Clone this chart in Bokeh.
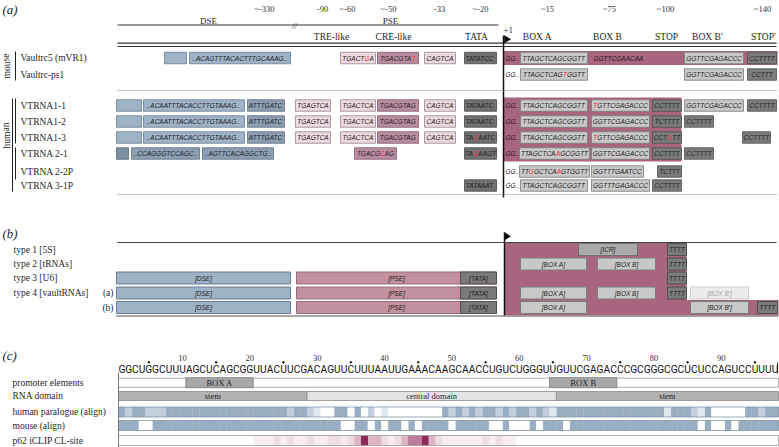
from bokeh.plotting import figure
from bokeh.models import Range1d
from bokeh.core.properties import value
from bokeh.embed import file_html
from bokeh.resources import INLINE

# ======================= DATA =======================
# panel (a)
ROWS_A = ["Vaultrc5 (mVR1)", "Vaultrc-ps1", "VTRNA1-1", "VTRNA1-2", "VTRNA1-3",
          "VTRNA 2-1", "VTRNA 2-2P", "VTRNA 3-1P"]
POS_LABELS = ["~-330", "-90", "~-60", "~-50", "-33", "~-20", "~15", "~75", "~100", "~140"]
HEADERS = ["TRE-like", "CRE-like", "TATA", "BOX A", "BOX B", "STOP", "BOX B\u2032", "STOP\u2032"]
REGIONS = ["DSE", "PSE"]
# element lists per row: (kind, slot, sequence, red-letter indices)
ROW_ELEMENTS = [
    [("dse", "m0", "", ()), ("dse", "m1", "..ACAGTTTACACTTTGCAAAG..", ()),
     ("tre", "tre2", "TGACTGA", (5,)), ("cre", "cre", "TGACGTAT", (7,)),
     ("tre", "cap", "CAGTCA", ()), ("tata", "tata", "TATATCC", ()),
     ("plain", "gg", "GG..", ()), ("grey", "boxA", "TTAGCTCAGCGGTT", ()),
     ("plain", "boxBt", "GGTTCGAACAA", ()), ("grey", "boxB2", "GGTTCGAGACCC", ()),
     ("stop", "stop2", "CCTTTT", ())],
    [("plain", "gg", "GG..", ()), ("grey", "boxA", "TTAGCTCAGTGGTT", (9,)),
     ("grey", "boxB2", "GGTTCGAGACCC", ()), ("stop", "stop2", "CCTTT", ())],
    [("dse", "h0", "", ()), ("dse", "h1", "..ACAATTTACACCTTGTAAAG..", ()),
     ("dse2", "h2", "ATTTGATC", ()), ("tre", "tre1", "TGAGTCA", ()),
     ("tre", "tre2", "TGACTCA", ()), ("cre", "cre", "TGACGTAG", ()),
     ("tre", "cap", "CAGTCA", ()), ("tata", "tata", "TATAATC", ()),
     ("plain", "gg", "GG..", ()), ("grey", "boxA", "TTAGCTCAGCGGTT", ()),
     ("grey", "boxB", "TGTTCGAGACCC", (0,)), ("stop", "stop", "CCTTTT", ()),
     ("grey", "boxB2", "GGTTCGAGACCC", ()), ("stop", "stop2", "CCTTTT", ())],
    [("dse", "h0", "", ()), ("dse", "h1", "..ACAATTTACACCTTGTAAAG..", ()),
     ("dse2", "h2", "ATTTGATC", ()), ("tre", "tre1", "TGAGTCA", ()),
     ("tre", "tre2", "TGACTCA", ()), ("cre", "cre", "TGACGTAG", ()),
     ("tre", "cap", "CAGTCA", ()), ("tata", "tata", "TATAATC", ()),
     ("plain", "gg", "GG..", ()), ("grey", "boxA", "TTAGCTCAGCGGTT", ()),
     ("grey", "boxB", "GGTTCGAGACCC", ()), ("stop", "stop", "TCTTTT", ()),
     ("stop", "stop2b", "CCTTTT", ())],
    [("dse", "h0", "", ()), ("dse", "h1", "..ACAATTTACACCTTGTAAAG..", ()),
     ("dse2", "h2", "ATTTGATC", ()), ("tre", "tre1", "TGAGTCA", ()),
     ("tre", "tre2", "TGACTCA", ()), ("cre", "cre", "TGACGTAG", ()),
     ("tre", "cap", "CAGTCA", ()), ("tata", "tata", "TACAATC", (2,)),
     ("plain", "gg", "GG..", ()), ("grey", "boxA", "TTAGCTCAGCGGTT", ()),
     ("grey", "boxB", "TGTTCGAGACCC", (0,)), ("stop", "stop", "CCTGTT", (3,)),
     ("stop", "stop2c", "CCTTTT", ())],
    [("dse3", "v0", "", ()), ("dse2", "v1", "..CCAGGGTCCAGC..", ()),
     ("dse2", "v2", "..AGTTCACAGGCTG..", ()), ("cre", "cre2", "TGACGCAG", (5,)),
     ("tata", "tata", "TAGAAGT", (2,)),
     ("plain", "gg", "GG..", ()), ("grey", "boxAw", "TTAGCTCAAGCGGTT", (8,)),
     ("grey", "boxB", "GGTTCGAGACCC", ()), ("stop", "stop", "CCTTTT", ()),
     ("stop", "stop2b", "CCTTTT", ())],
    [("plain", "gg", "GG..", ()), ("grey", "boxAw", "TTGGCTCAAGTGGTT", (2, 8)),
     ("grey", "boxBs", "GGTTTGAATCC", ()), ("stop", "stops", "TCTTT", ())],
    [("tata", "tata", "TATAAAT", ()), ("plain", "gg", "GG..", ()),
     ("grey", "boxA", "TTAGCTCAGCGGTT", ()), ("grey", "boxB", "GGTTTGAGACCC", ()),
     ("stop", "stop", "CCTTTT", ())],
]

# panel (b)
ROWS_B = ["type 1 [5S]", "type 2 [tRNAs]", "type 3 [U6]", "type 4 [vaultRNAs]", ""]
SUB_B = ["", "", "", "(a)", "(b)"]
ROW_B_ELEMENTS = [
    [("icr", "icr", "[ICR]"), ("stopb", "t1", "TTTT")],
    [("greyb", "ba", "[BOX A]"), ("greyb", "bb", "[BOX B]"), ("stopb", "t1", "TTTT")],
    [("dseb", "dse", "[DSE]"), ("pseb", "pse", "[PSE]"), ("tatab", "tata", "[TATA]"), ("stopb", "t1", "TTTT")],
    [("dseb", "dse", "[DSE]"), ("pseb", "pse", "[PSE]"), ("tatab", "tata", "[TATA]"),
     ("greyb", "ba", "[BOX A]"), ("greyb", "bb", "[BOX B]"), ("stopb", "t1", "TTTT"), ("faded", "bb2", "[BOX B\u2032]")],
    [("dseb", "dse", "[DSE]"), ("pseb", "pse", "[PSE]"), ("tatab", "tata", "[TATA]"),
     ("greyb", "ba", "[BOX A]"), ("greyb", "bb2", "[BOX B\u2032]"), ("stopb", "t2", "TTTT")],
]

# panel (c)
SEQ = "GGCUGGCUUUAGCUCAGCGGUUACUUCGACAGUUCUUUAAUUGAAACAAGCAACCUGUCUGGGUUGUUCGAGACCCGCGGGCGCUCUCCAGUCCUUUU"
TICKS_C = [10, 20, 30, 40, 50, 60, 70, 80, 90]
ROWS_C = ["promoter elements", "RNA domain", "human paralogue (align)", "mouse (align)", "p62 iCLIP CL-site"]
PROMOTER = [("BOX A", 11, 20), ("BOX B", 65, 74)]
DOMAINS = [("stem", 1, 28), ("central domain", 29, 65), ("stem", 66, 98)]
# conservation level 0 (none) .. 3 (full)
HUMAN_ALIGN = [3, 2, 3, 3, 2, 2, 2, 3, 3, 3, 3, 3, 3, 3, 3, 3, 3, 3, 3, 3,
               3, 3, 3, 3, 3, 2, 3, 3, 2, 1, 0, 0, 3, 3, 0, 3, 0, 2, 0, 1,
               0, 0, 0, 0, 0, 0, 0, 0, 3, 2, 3, 2, 3, 2, 3, 3, 2, 3, 2, 3,
               3, 2, 3, 2, 1, 3, 3, 3, 3, 3, 3, 3, 3, 3, 3, 3, 3, 3, 3, 3,
               3, 1, 3, 3, 3, 2, 1, 3, 0, 0, 0, 0, 0, 3, 3, 2, 3, 3]
MOUSE_ALIGN = [3, 3, 3, 0, 0, 3, 3, 3, 3, 3, 3, 3, 3, 3, 3, 3, 3, 3, 3, 3,
               3, 3, 3, 3, 3, 3, 3, 3, 3, 3, 3, 3, 3, 0, 0, 3, 3, 0, 3, 0,
               3, 3, 0, 3, 0, 3, 3, 3, 3, 0, 3, 3, 3, 3, 3, 0, 0, 3, 0, 0,
               0, 3, 0, 3, 3, 3, 0, 3, 3, 3, 3, 3, 3, 3, 3, 3, 3, 3, 3, 3,
               3, 3, 3, 3, 3, 3, 0, 3, 0, 0, 3, 0, 3, 3, 3, 3, 3, 3]
# p62 crosslink intensity 0 .. 5
P62_CL = [0, 0, 0, 0, 0, 0, 0, 0, 0, 0, 0, 0, 0, 0, 0, 0, 0, 0, 0, 0,
          1, 1, 1, 2, 1, 2, 1, 1, 2, 1, 1, 2, 2, 1, 2, 3, 5, 3, 3, 2,
          1, 2, 3, 4, 4, 5, 3, 2, 1, 1, 1, 1, 1, 1, 2, 1, 2, 1, 1, 0,
          0, 0, 0, 0, 0, 0, 0, 0, 0, 0, 0, 0, 0, 0, 0, 0, 0, 0, 0, 0,
          0, 0, 0, 0, 0, 0, 0, 0, 0, 0, 0, 0, 0, 0, 0, 0, 0, 0]

# ======================= LAYOUT / STYLE =======================
W, H = 779, 447
p = figure(width=W, height=H, x_range=Range1d(0, W), y_range=Range1d(H, 0),
           output_backend="svg", toolbar_location=None,
           x_axis_location=None, y_axis_location=None, min_border=0)
p.outline_line_color = None
p.grid.visible = False

SERIF = "Liberation Serif"
SANS = "Liberation Sans"
INK = "#1f1f1f"
RED = "#ff2b3b"
PINK_BG = "#a8657f"

TEXTS = {}
RECTS = {}
SEGS = {}


def T(x, y, t, font=SERIF, size=9.5, style="normal", color=INK, align="left", angle=0.0):
    k = (font, size, style, color, align, angle)
    g = TEXTS.setdefault(k, ([], [], []))
    g[0].append(x); g[1].append(y); g[2].append(t)


def R(x0, x1, y0, y1, fill, line=None, lw=0.8, layer=1):
    k = (layer, fill, line, lw)
    g = RECTS.setdefault(k, ([], [], [], []))
    g[0].append(x0); g[1].append(x1); g[2].append(y0); g[3].append(y1)


def L(x0, y0, x1, y1, color="#333", lw=1.0, dash="solid"):
    k = (color, lw, dash)
    g = SEGS.setdefault(k, ([], [], [], []))
    g[0].append(x0); g[1].append(y0); g[2].append(x1); g[3].append(y1)


# Liberation Sans (Arial-metric) advance widths, 1/1000 em
AW = {'A': 667, 'C': 722, 'G': 778, 'T': 611, '.': 278}
SEQ_SIZE = 6.5


def seqtext(x, y, s, red=(), align="center", color=INK, size=SEQ_SIZE):
    w = [AW.get(c, 600) * size / 1000 for c in s]
    start = x - sum(w) / 2 if align == "center" else x
    i = 0
    while i < len(s):
        r = i in red
        j = i
        while j < len(s) and ((j in red) == r):
            j += 1
        T(start + sum(w[:i]), y, s[i:j], font=SANS, size=size, style="italic",
          color=RED if r else color)
        i = j


# ---------- panel (a) ----------
KIND_A = {
    "dse": ("#9fb3c8", "#6b7d90"), "dse2": ("#8b9eb3", "#5f7083"), "dse3": ("#7f90a3", "#5a6878"),
    "tre": ("#ecd8e0", "#9d8790"), "cre": ("#b98ca1", "#7d5a6a"), "tata": ("#717171", "#4a4a4a"),
    "grey": ("#c8c8c8", "#7c7c7c"), "stop": ("#7b7b7b", "#4f4f4f"),
}
SLOTS_A = {
    "m0": (164, 186), "m1": (189, 290), "h0": (116, 141), "h1": (143, 244), "h2": (247, 284),
    "v0": (116, 128), "v1": (131, 199), "v2": (202, 273),
    "tre1": (295, 330), "tre2": (340, 375), "cre": (377, 418), "cre2": (354, 396),
    "cap": (424, 455), "tata": (464, 496), "gg": (505, 518),
    "boxA": (520, 587), "boxAw": (519, 589), "boxB": (591, 649), "boxBs": (591, 643), "boxBt": (593, 650),
    "stop": (652, 681), "stops": (657, 681), "boxB2": (684, 743), "stop2": (747, 776),
    "stop2b": (684, 713), "stop2c": (742, 770),
}
ROW_Y_A = [57.5, 74, 105, 121, 137, 153, 171, 185]
BH = 11.5
X_LEFT, X_RIGHT, X_TSS = 117, 776, 503

T(2, 9, "(a)", size=13, style="italic")
POS_X = [264, 322, 347, 388, 439, 480, 547, 609, 665, 762]
for x, t in zip(POS_X, POS_LABELS):
    T(x, 8.5, t, size=8.5, align="center", color="#333")
HEAD_X = [331, 393, 476, 537, 607, 666, 707, 763]
for x, t in zip(HEAD_X, HEADERS):
    T(x, 36, t, size=9.5, align="center")
T(208, 20, REGIONS[0], size=9, align="center")
T(390, 20, REGIONS[1], size=9, align="center")
T(294, 25, "//", size=9, style="italic", align="center")
T(503, 29.5, "+1", size=9)
L(X_LEFT, 24.5, 498, 24.5, "#333", 1)
L(X_LEFT, 42.7, X_RIGHT, 42.7, "#333", 1.2)
L(X_LEFT, 46, X_RIGHT, 46, "#333", 1.2)
L(X_TSS, 35, X_TSS, 197, "#111", 1.5)
L(X_LEFT, 90, X_RIGHT, 90, "#8a8a8a", 1, "1 1")
L(X_LEFT, 194, X_RIGHT, 194, "#8a8a8a", 1, "1 1")

# transcribed region backgrounds
R(X_TSS, X_RIGHT + 1, ROW_Y_A[0] - 7, ROW_Y_A[0] + 7, PINK_BG, None, 0, layer=0)
R(X_TSS, 681, ROW_Y_A[2] - 8, ROW_Y_A[5] + 8, PINK_BG, None, 0, layer=0)

for name, y, elems in zip(ROWS_A, ROW_Y_A, ROW_ELEMENTS):
    T(20, y, name, size=9.5)
    for kind, slot, s, red in elems:
        x0, x1 = SLOTS_A[slot]
        if kind == "plain":
            seqtext(x0, y, s, red, align="left", color="#2a1a22")
            continue
        fill, line = KIND_A[kind]
        R(x0, x1, y - BH / 2, y + BH / 2, fill, line)
        if s:
            seqtext((x0 + x1) / 2, y, s, red)

# species brackets
L(15, 51, 15, 80, "#222", 1)
T(6, 65.5, "mouse", size=9.5, align="center", angle=1.5708)
L(12, 98, 12, 191, "#222", 1)
L(15, 98, 15, 143, "#222", 1)
L(15, 147, 15, 179, "#222", 1)
T(6, 135, "human", size=9.5, align="center", angle=1.5708)

# TSS flags
FLAGS = [(X_TSS + 1, 35), (X_TSS + 1, 232)]
p.patches(xs=[[fx, fx + 6, fx] for fx, fy in FLAGS],
          ys=[[fy, fy + 3.8, fy + 7.6] for fx, fy in FLAGS],
          fill_color="#000", line_color="#000", line_width=0.5)

# ---------- panel (b) ----------
T(2, 233, "(b)", size=13, style="italic")
ROW_Y_B = [249, 263.5, 277.5, 292.5, 307]
KIND_B = {
    "dseb": ("#9fb3c8", "#6b7d90", INK), "pseb": ("#c3909f", "#9a6c7d", INK),
    "tatab": ("#7a7a7a", "#4f4f4f", INK), "icr": ("#a9a9a9", "#6f6f6f", INK),
    "greyb": ("#c8c8c8", "#7c7c7c", INK), "stopb": ("#7b7b7b", "#4f4f4f", INK),
    "faded": ("#ececec", "#cfcfcf", "#a8a8a8"),
}
SLOTS_B = {"dse": (116, 290), "pse": (296, 496), "tata": (460, 496), "icr": (578, 637),
           "ba": (520, 586), "bb": (597, 655), "t1": (667, 686), "bb2": (690, 748), "t2": (757, 777)}
TSS_B = 504
p.patch(x=[TSS_B, 686, 686, 778, 778, TSS_B], y=[242, 242, 299.5, 299.5, 315, 315],
        fill_color=PINK_BG, line_color=None)
L(X_LEFT, 242, X_RIGHT, 242, "#444", 1)
L(116, 315.5, 778, 315.5, "#8a8a8a", 1.5)
L(TSS_B, 232, TSS_B, 315.5, "#111", 1.5)
for name, sub, y, elems in zip(ROWS_B, SUB_B, ROW_Y_B, ROW_B_ELEMENTS):
    if name:
        T(13, y, name, size=9.5)
    if sub:
        T(113, y, sub, size=9.5, align="right")
    for kind, slot, s in elems:
        x0, x1 = SLOTS_B[slot]
        fill, line, tc = KIND_B[kind]
        R(x0, x1, y - 6, y + 6, fill, line, 1.0, layer=1 if kind != "pseb" else 0.5)
        cx = (x0 + x1) / 2
        T(cx, y, s, font=SANS, size=6.5, style="italic", color=tc, align="center")

# ---------- panel (c) ----------
T(2, 355, "(c)", size=13, style="italic")
X0C, X1C = 118, 778
CW = (X1C - X0C) / len(SEQ)
cell_l = [X0C + i * CW for i in range(len(SEQ))]
for i, ch in enumerate(SEQ):
    T(cell_l[i] + CW / 2, 368.5, ch, font="Roboto", size=10.2, align="center", color="#111")
dots = list(range(5, len(SEQ) + 1, 10))
p.scatter(x=[cell_l[n - 1] + CW / 2 for n in dots], y=[361.8] * len(dots), size=1.6, color="#111")
for n in TICKS_C:
    T(cell_l[n - 1] + CW / 2, 357, str(n), size=8.5, align="center", color="#333")
L(777, 362, 777, 373, "#333", 1)

ROW_Y_C = [382.2, 395.5, 411.5, 425, 440]
for name, y in zip(ROWS_C, ROW_Y_C):
    T(12, y, name, size=9.5)

# promoter elements
y = ROW_Y_C[0]
R(X0C, X1C, y - 4.5, y + 4.5, "#ffffff", "#9a9a9a", 0.8, layer=0)
for lab, a, b in PROMOTER:
    R(cell_l[a - 1], cell_l[b - 1] + CW, y - 5, y + 5, "#a8a8aa", "#7a7a7a", 0.8)
    T((cell_l[a - 1] + cell_l[b - 1] + CW) / 2, y, lab, size=8.5, align="center")
# RNA domain
y = ROW_Y_C[1]
for lab, a, b in DOMAINS:
    fill = "#e4e4e6" if lab.startswith("central") else "#b2b2b2"
    R(cell_l[a - 1], cell_l[b - 1] + CW, y - 4.5, y + 4.5, fill, "#8c8c8c", 0.8)
    T((cell_l[a - 1] + cell_l[b - 1] + CW) / 2, y, lab, size=8.5, align="center")

BLUES = ["#ffffff", "#e2e8ef", "#c3cfdc", "#9aaec3"]
PINKS = ["#ffffff", "#f8eef2", "#efdce4", "#ddb5c7", "#bd7b9a", "#8c2a5a"]
for vals, y, pal, edge in [(HUMAN_ALIGN, ROW_Y_C[2], BLUES, "#8295aa"),
                           (MOUSE_ALIGN, ROW_Y_C[3], BLUES, "#8295aa"),
                           (P62_CL, ROW_Y_C[4], PINKS, "#9a9a9a")]:
    for i, v in enumerate(vals):
        R(cell_l[i], cell_l[i] + CW + 0.3, y - 5, y + 5, pal[v], None, 0, layer=2)
    R(X0C, X1C, y - 5, y + 5, None, edge, 0.8, layer=3)
L(X0C, 372, X0C, 447, "#777", 1)

# ======================= DRAW =======================
for (layer, fill, line, lw) in sorted(RECTS.keys(), key=lambda k: k[0]):
    l, r, b, t = RECTS[(layer, fill, line, lw)]
    p.quad(left=l, right=r, bottom=b, top=t,
           fill_color=fill if fill else None, fill_alpha=1 if fill else 0,
           line_color=line, line_width=lw if line else 0)
for (color, lw, dash), (x0, y0, x1, y1) in SEGS.items():
    p.segment(x0=x0, y0=y0, x1=x1, y1=y1, line_color=color, line_width=lw, line_dash=dash)
for (font, size, style, color, align, angle), (xs, ys, ts) in TEXTS.items():
    p.text(x=xs, y=ys, text=ts, text_font=value(font), text_font_size=value(f"{size}px"),
           text_font_style=style, text_color=color, text_align=align,
           text_baseline="middle", angle=angle)

open("out.html", "w").write(file_html(p, INLINE))
